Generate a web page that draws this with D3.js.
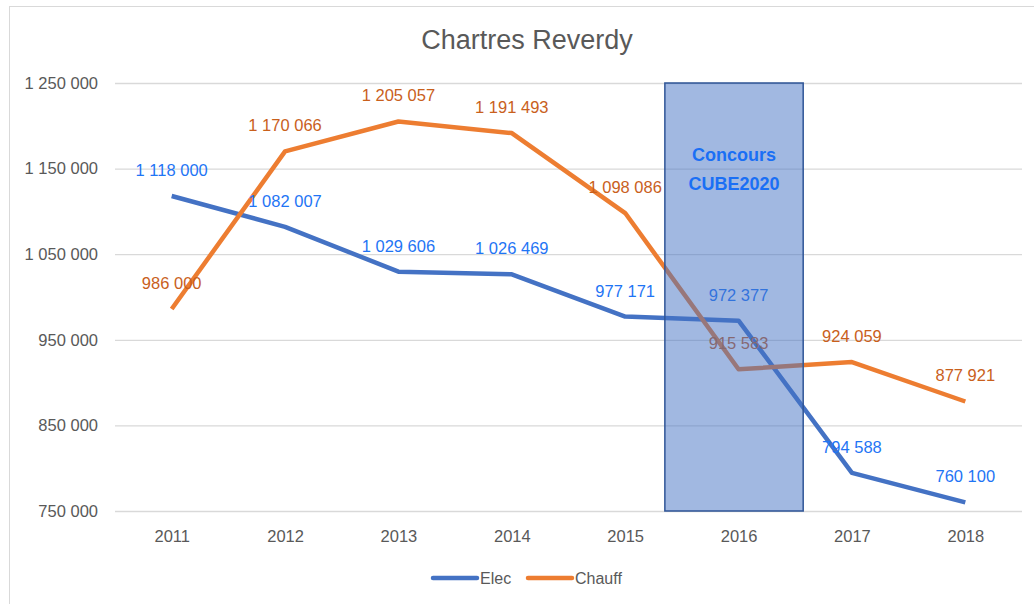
<!DOCTYPE html>
<html>
<head>
<meta charset="utf-8">
<script src="https://cdn.jsdelivr.net/npm/d3@7"></script>
<style>
  body { margin: 0; background: #fff; }
  text { font-family: "Liberation Sans", Arial, sans-serif; }
</style>
</head>
<body>
<svg class="chart"></svg>
<script>
let width = 1034;
let height = 604;

// Data
let years = ["2011", "2012", "2013", "2014", "2015", "2016", "2017", "2018"];
let elec = [1118000, 1082007, 1029606, 1026469, 977171, 972377, 794588, 760100];
let chauff = [986000, 1170066, 1205057, 1191493, 1098086, 915583, 924059, 877921];
let yTicks = [750000, 850000, 950000, 1050000, 1150000, 1250000];
// highlighted period, in category index units
let boxSpan = [4.35, 5.57];
let boxLines = ["Concours", "CUBE2020"];

let series = [
  { name: "Elec", values: elec, color: "#4472C4", labelColor: "#1F75F5" },
  { name: "Chauff", values: chauff, color: "#ED7D31", labelColor: "#C9601C" }
];

let svg = d3.select(".chart")
  .attr("width", width)
  .attr("height", height);

// chart frame
svg.append("rect")
  .attr("x", 9.5).attr("y", 6.5)
  .attr("width", width + 10).attr("height", height + 10)
  .attr("fill", "#fff")
  .attr("stroke", "#d9d9d9");

let x = d3.scaleLinear().domain([-0.5, years.length - 0.5]).range([115, 1022]);
let y = d3.scaleLinear().domain([750000, 1250000]).range([511, 83]);

let fmt = function(v) {
  return d3.format(",")(v).replace(/,/g, " ");
};

// title
svg.append("text")
  .attr("x", 527).attr("y", 49)
  .attr("text-anchor", "middle")
  .style("font-family", "'Liberation Sans Narrow', 'Liberation Sans', sans-serif")
  .style("font-size", "27px")
  .attr("fill", "#595959")
  .text("Chartres Reverdy");

// gridlines + y labels
let yAxis = d3.axisLeft(y)
  .tickValues(yTicks)
  .tickSize(-(x.range()[1] - x.range()[0]))
  .tickPadding(17)
  .tickFormat(fmt);

let gy = svg.append("g")
  .attr("transform", "translate(" + x.range()[0] + ",0)")
  .call(yAxis);
gy.select(".domain").remove();
gy.selectAll("line").attr("stroke", "#d9d9d9").attr("stroke-width", 1.3);
gy.selectAll("text")
  .attr("fill", "#595959")
  .style("font-size", "16.5px");

// x labels
let xAxis = d3.axisBottom(x)
  .tickValues(d3.range(years.length))
  .tickSize(0)
  .tickPadding(19)
  .tickFormat(function(i) { return years[i]; });

let gx = svg.append("g")
  .attr("transform", "translate(0," + y.range()[0] + ")")
  .call(xAxis);
gx.select(".domain").remove();
gx.selectAll("text")
  .attr("fill", "#595959")
  .style("font-size", "16.5px");

// lines
let line = d3.line()
  .x(function(d, i) { return x(i); })
  .y(function(d) { return y(d); });

svg.append("g").selectAll("path")
  .data(series)
  .enter().append("path")
  .attr("d", function(s) { return line(s.values); })
  .attr("fill", "none")
  .attr("stroke", function(s) { return s.color; })
  .attr("stroke-width", 4.5)
  .attr("stroke-linejoin", "round");

// data labels above points
series.forEach(function(s) {
  svg.append("g").selectAll("text")
    .data(s.values)
    .enter().append("text")
    .attr("x", function(d, i) { return x(i); })
    .attr("y", function(d) { return y(d) - 20; })
    .attr("text-anchor", "middle")
    .attr("fill", s.labelColor)
    .style("font-size", "16.5px")
    .text(fmt);
});

// highlight box sits on top of the lines
svg.append("rect")
  .attr("x", x(boxSpan[0]))
  .attr("y", y(1250000))
  .attr("width", x(boxSpan[1]) - x(boxSpan[0]))
  .attr("height", y(750000) - y(1250000))
  .attr("fill", "#4472C4")
  .attr("fill-opacity", 0.5)
  .attr("stroke", "#2F5597")
  .attr("stroke-width", 1.5);

svg.append("g").selectAll("text")
  .data(boxLines)
  .enter().append("text")
  .attr("x", (x(boxSpan[0]) + x(boxSpan[1])) / 2)
  .attr("y", function(d, i) { return 161 + i * 29; })
  .attr("text-anchor", "middle")
  .attr("fill", "#1A6FF5")
  .style("font-size", "18px")
  .style("font-weight", "bold")
  .text(function(d) { return d; });

// legend
let legend = svg.append("g")
  .attr("transform", "translate(433,578)");

let item = legend.selectAll("g")
  .data(series)
  .enter().append("g")
  .attr("transform", function(d, i) { return "translate(" + (i * 95) + ",0)"; });

item.append("line")
  .attr("x1", 0).attr("x2", 44)
  .attr("stroke", function(d) { return d.color; })
  .attr("stroke-width", 4.5)
  .attr("stroke-linecap", "round");

item.append("text")
  .attr("x", 47).attr("y", 6)
  .attr("fill", "#595959")
  .style("font-size", "16px")
  .text(function(d) { return d.name; });
</script>
</body>
</html>
